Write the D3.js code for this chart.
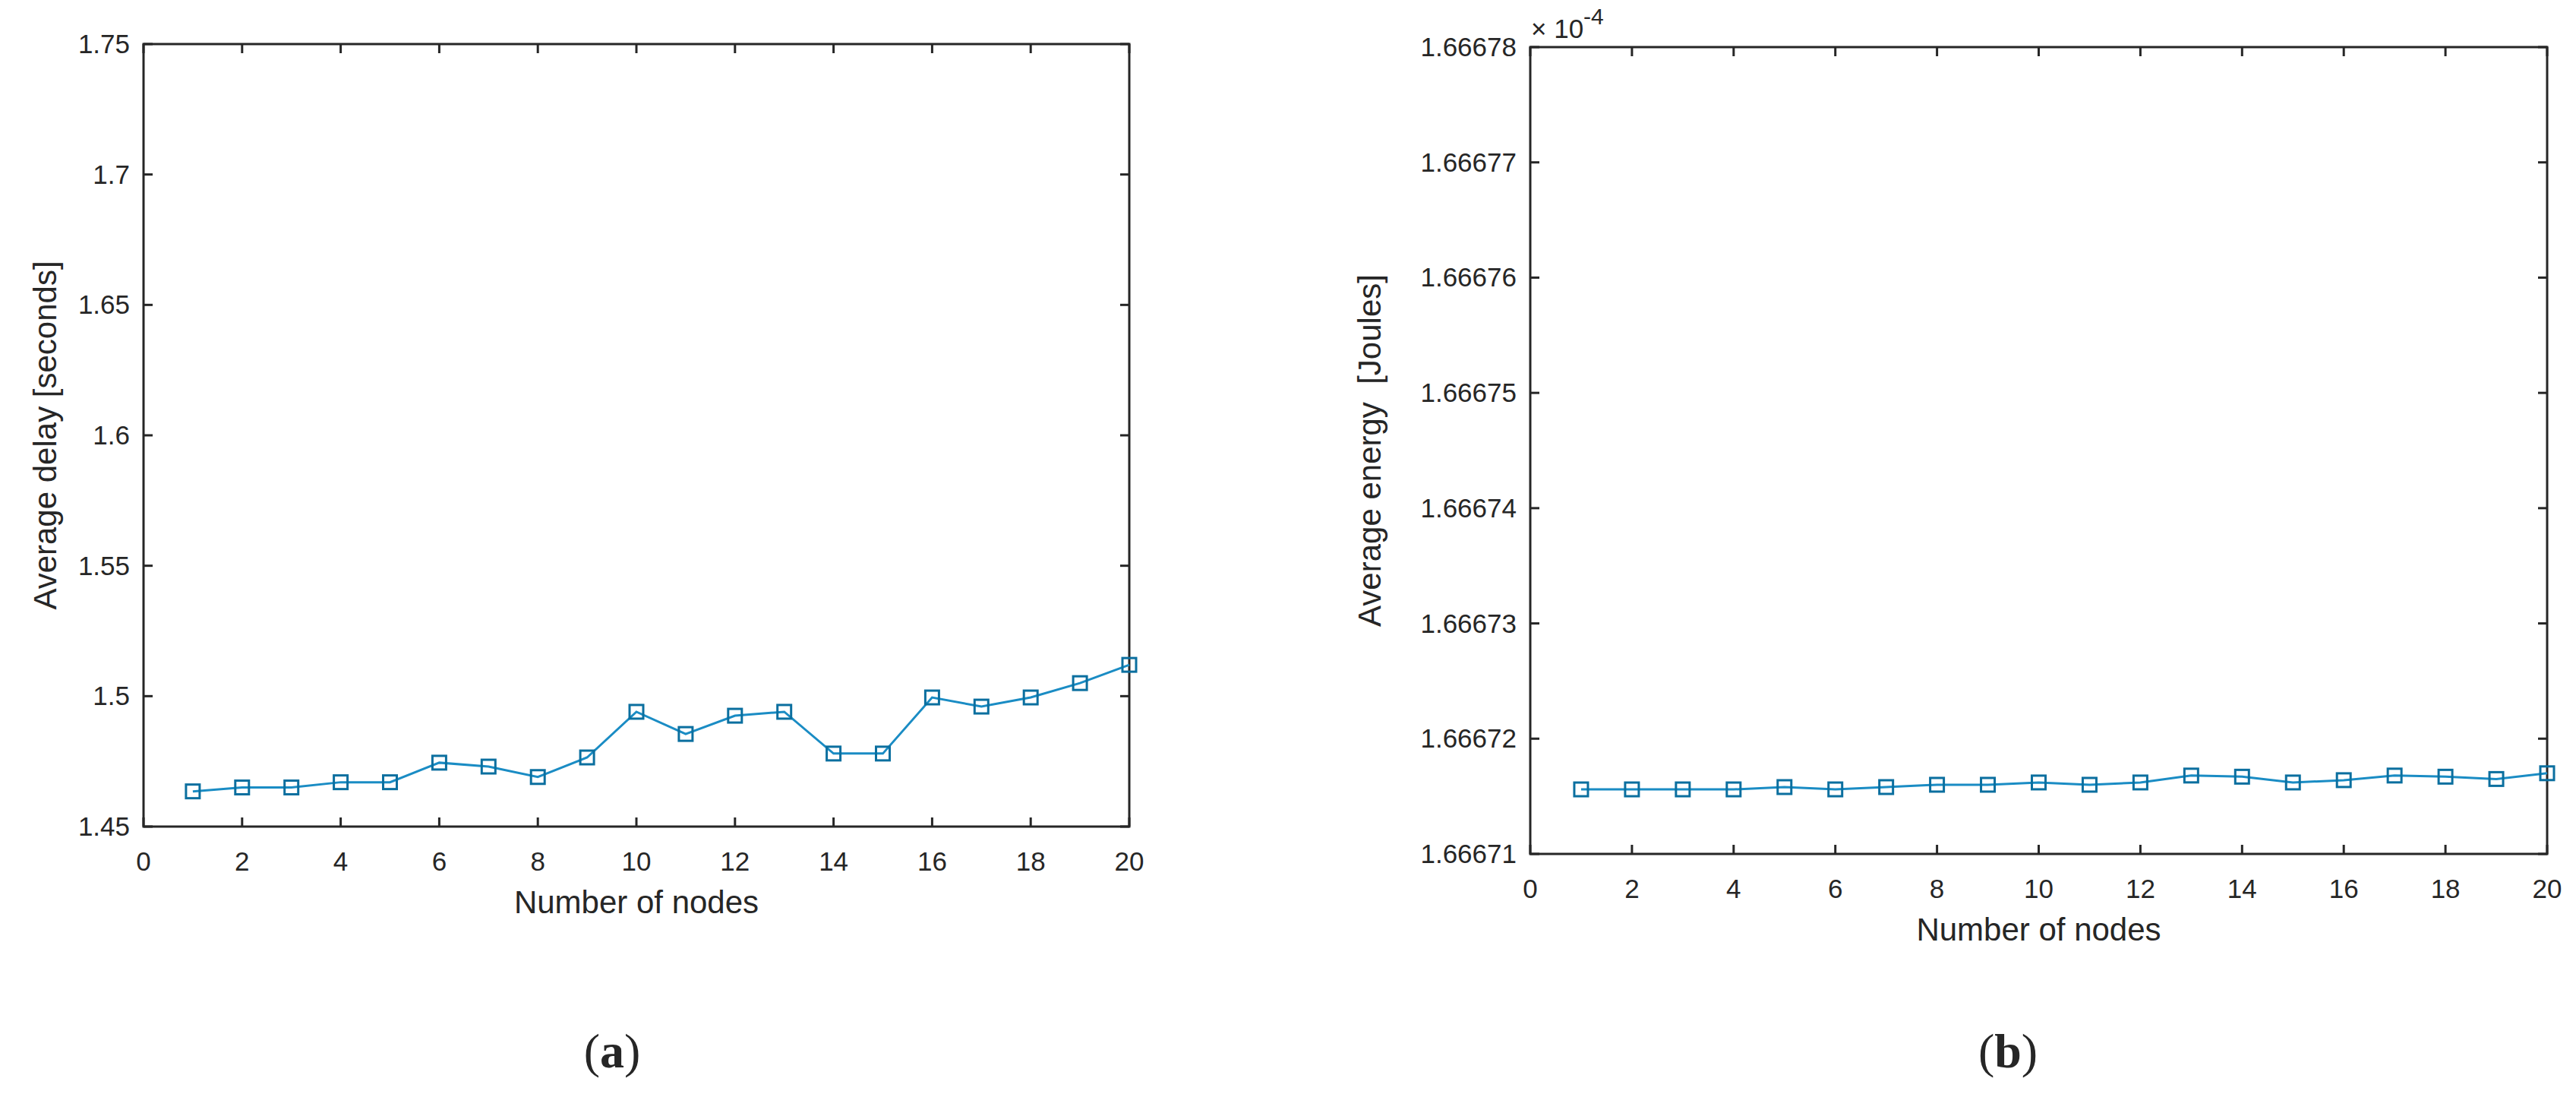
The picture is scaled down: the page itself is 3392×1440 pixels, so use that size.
<!DOCTYPE html>
<html>
<head>
<meta charset="utf-8">
<script src="https://cdn.jsdelivr.net/npm/d3@7"></script>
<style>
  body { margin: 0; background: #fff; }
  text { font-family: "Liberation Sans", Arial, sans-serif; fill: #262626; }
</style>
</head>
<body>
<div class="chart"></div>
<script>
const nodes = d3.range(1, 21);
const delay = [1.4635, 1.465, 1.465, 1.467, 1.467, 1.4745, 1.473, 1.469, 1.4765, 1.494,
               1.4855, 1.4925, 1.494, 1.478, 1.478, 1.4995, 1.496, 1.4995, 1.505, 1.512];
// energy in units of 1e-4 J
const energy = [1.6667156, 1.6667156, 1.6667156, 1.6667156, 1.6667158, 1.6667156, 1.6667158,
                1.6667160, 1.6667160, 1.6667162, 1.6667160, 1.6667162, 1.6667168, 1.6667167,
                1.6667162, 1.6667164, 1.6667168, 1.6667167, 1.6667165, 1.6667170];
const xTicks = d3.range(0, 21, 2);
const delayTicks = [1.45, 1.5, 1.55, 1.6, 1.65, 1.7, 1.75];
const energyTicks = [1.66671, 1.66672, 1.66673, 1.66674, 1.66675, 1.66676, 1.66677, 1.66678];

const svg = d3.select(".chart").append("svg")
  .attr("width", 3392).attr("height", 1440);

function panel(o) {
  const x = d3.scaleLinear().domain([0, 20]).range([o.left, o.right]);
  const y = d3.scaleLinear().domain(o.ydom).range([o.bottom, o.top]);
  const g = svg.append("g");
  const tl = 12;

  // ticks on all four sides, pointing inward
  xTicks.forEach(t => {
    g.append("line").attr("x1", x(t)).attr("x2", x(t)).attr("y1", o.bottom).attr("y2", o.bottom - tl)
      .attr("stroke", "#262626").attr("stroke-width", 3);
    g.append("line").attr("x1", x(t)).attr("x2", x(t)).attr("y1", o.top).attr("y2", o.top + tl)
      .attr("stroke", "#262626").attr("stroke-width", 3);
    g.append("text").attr("x", x(t)).attr("y", o.bottom + 58).attr("text-anchor", "middle")
      .attr("font-size", 35).text(t);
  });
  o.yticks.forEach(t => {
    g.append("line").attr("x1", o.left).attr("x2", o.left + tl).attr("y1", y(t)).attr("y2", y(t))
      .attr("stroke", "#262626").attr("stroke-width", 3);
    g.append("line").attr("x1", o.right).attr("x2", o.right - tl).attr("y1", y(t)).attr("y2", y(t))
      .attr("stroke", "#262626").attr("stroke-width", 3);
    g.append("text").attr("x", o.left - 18).attr("y", y(t) + 12).attr("text-anchor", "end")
      .attr("font-size", 35).text(o.fmt(t));
  });
  g.append("rect").attr("x", o.left).attr("y", o.top)
    .attr("width", o.right - o.left).attr("height", o.bottom - o.top)
    .attr("fill", "none").attr("stroke", "#262626").attr("stroke-width", 3);

  const line = d3.line().x((d, i) => x(nodes[i])).y(d => y(d));
  g.append("path").datum(o.data).attr("d", line)
    .attr("fill", "none").attr("stroke", "#1a8cc4").attr("stroke-width", 3);
  g.selectAll("rect.m").data(o.data).enter().append("rect").attr("class", "m")
    .attr("x", (d, i) => x(nodes[i]) - 9).attr("y", d => y(d) - 9)
    .attr("width", 18).attr("height", 18)
    .attr("fill", "none").attr("stroke", "#0b6f9f").attr("stroke-width", 3);

  g.append("text").attr("x", (o.left + o.right) / 2).attr("y", o.bottom + 72 + 42)
    .attr("text-anchor", "middle").attr("font-size", 42).text("Number of nodes");
  g.append("text").attr("transform", `translate(${o.ylabelX},${(o.top + o.bottom) / 2}) rotate(-90)`)
    .attr("text-anchor", "middle").attr("font-size", 42).attr("xml:space", "preserve").text(o.ylabel);
  g.append("text").attr("x", o.capX).attr("y", 1405).attr("text-anchor", "middle")
    .attr("font-size", 64).style("font-family", "'Liberation Serif', serif")
    .html('(<tspan font-weight="bold">' + o.cap + '</tspan>)');
  return g;
}

panel({ left: 189, right: 1487, top: 58, bottom: 1088, ydom: [1.45, 1.75], yticks: delayTicks,
  fmt: d => String(+d.toFixed(2)), data: delay, ylabel: "Average delay [seconds]", ylabelX: 74,
  cap: "a", capX: 806 });

const gb = panel({ left: 2015, right: 3354, top: 62, bottom: 1124, ydom: [1.66671, 1.66678], yticks: energyTicks,
  fmt: d => d.toFixed(5), data: energy, ylabel: "Average energy  [Joules]", ylabelX: 1818,
  cap: "b", capX: 2644 });

const ex = gb.append("text").attr("x", 2016).attr("y", 50).attr("font-size", 35);
ex.append("tspan").text("\u00d7 10");
ex.append("tspan").attr("dy", -18).attr("font-size", 30).text("-4");
</script>
</body>
</html>
